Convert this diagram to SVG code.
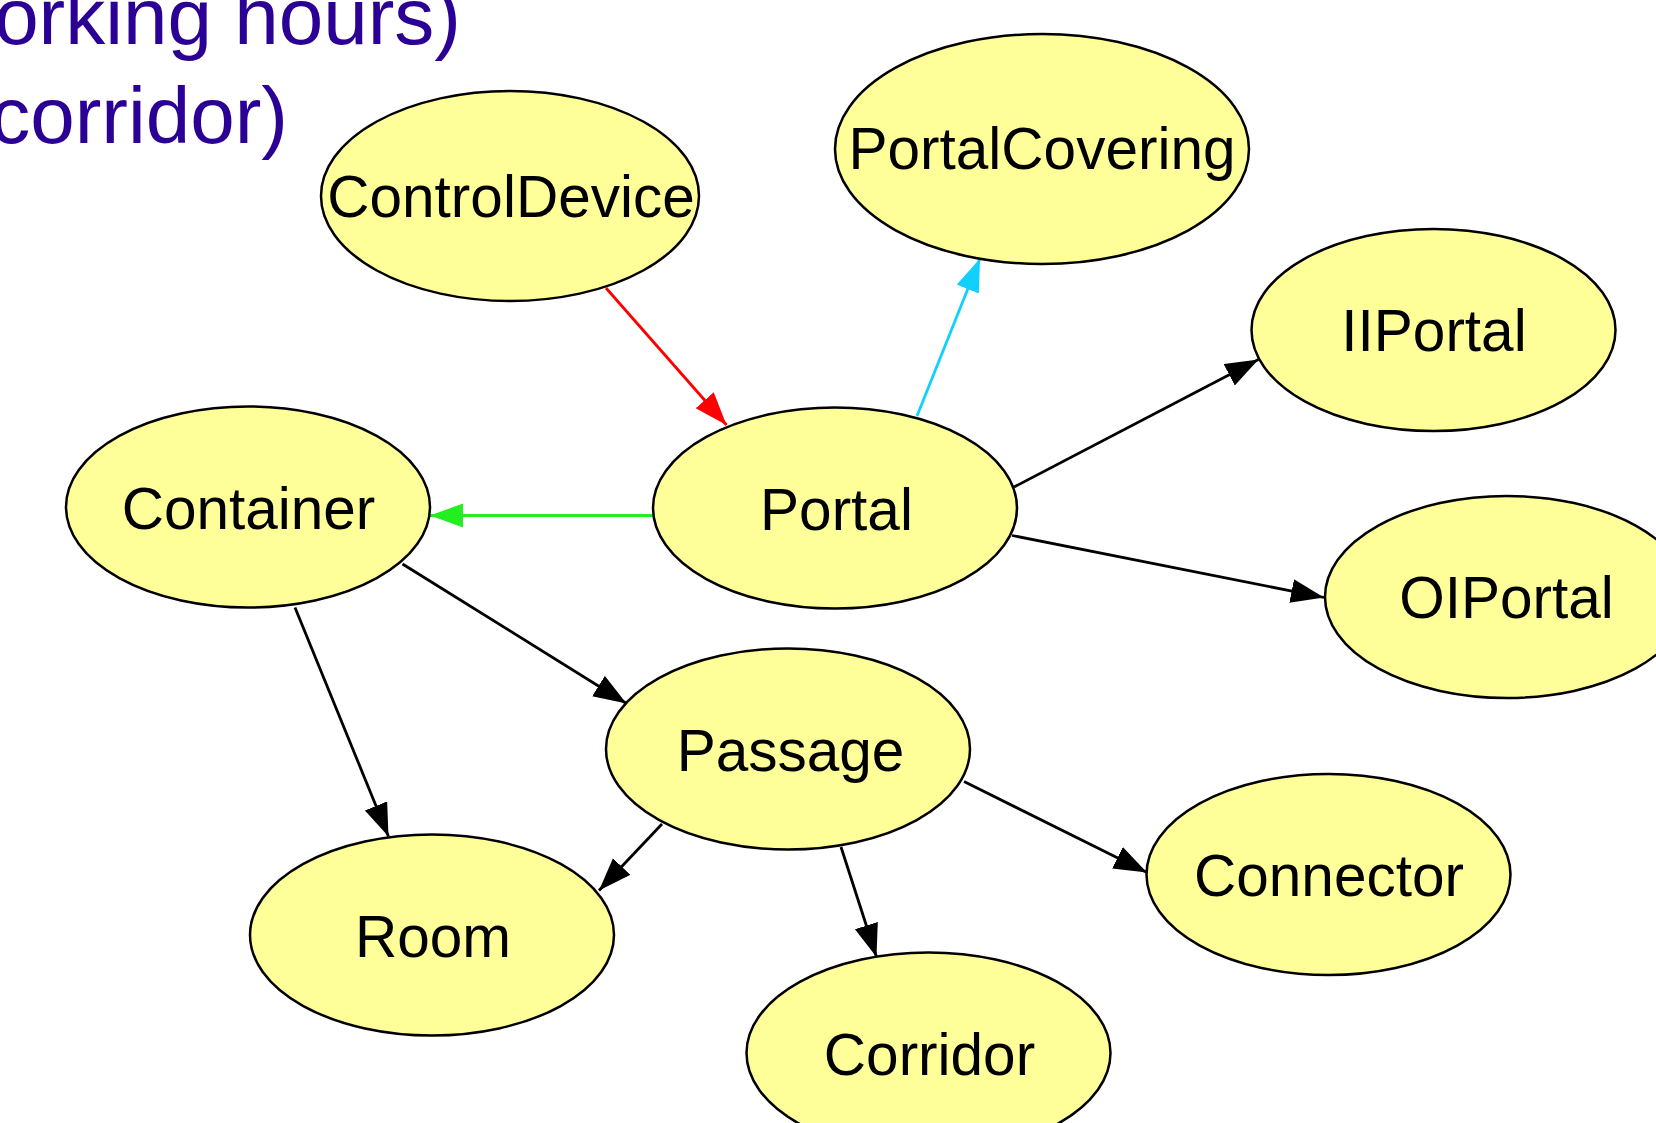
<svg xmlns="http://www.w3.org/2000/svg" width="1656" height="1123" viewBox="0 0 1656 1123">
<defs>
<style>
.node ellipse{fill:#ffff99;stroke:#000;stroke-width:2.5}
.node text{font-family:"Liberation Sans",Arial,sans-serif;font-size:58.5px;fill:#000;text-anchor:middle}
.edge{stroke-width:2.8;fill:none}
.title{font-family:"Liberation Sans",Arial,sans-serif;font-size:80px;fill:#2b0094;text-anchor:end}
</style>
<marker id="ab" markerUnits="userSpaceOnUse" markerWidth="36" markerHeight="26" refX="33" refY="12" orient="auto"><path d="M0,0 L33,12 L0,24 z" fill="#000"/></marker>
<marker id="ar" markerUnits="userSpaceOnUse" markerWidth="36" markerHeight="26" refX="33" refY="12" orient="auto"><path d="M0,0 L33,12 L0,24 z" fill="#ff0000"/></marker>
<marker id="ac" markerUnits="userSpaceOnUse" markerWidth="36" markerHeight="26" refX="33" refY="12" orient="auto"><path d="M0,0 L33,12 L0,24 z" fill="#10d0ff"/></marker>
<marker id="ag" markerUnits="userSpaceOnUse" markerWidth="36" markerHeight="26" refX="33" refY="12" orient="auto"><path d="M0,0 L33,12 L0,24 z" fill="#22ee22"/></marker>
</defs>
<rect width="1656" height="1123" fill="#fff"/>
<text class="title" x="461" y="44">orking hours)</text>
<text class="title" x="288" y="143">corridor)</text>
<g id="connectors">
<line class="edge" stroke="#ff0000" x1="606" y1="288" x2="726.5" y2="425" marker-end="url(#ar)"/>
<line class="edge" stroke="#10d0ff" x1="917" y1="416" x2="980" y2="258.5" marker-end="url(#ac)"/>
<line class="edge" stroke="#000" x1="1014" y1="487" x2="1258.5" y2="359.5" marker-end="url(#ab)"/>
<line class="edge" stroke="#000" x1="1012" y1="535.5" x2="1324" y2="597.5" marker-end="url(#ab)"/>
<line class="edge" stroke="#22ee22" x1="653" y1="515.5" x2="430" y2="515.5" marker-end="url(#ag)"/>
<line class="edge" stroke="#000" x1="402.5" y1="564" x2="626.5" y2="703.5" marker-end="url(#ab)"/>
<line class="edge" stroke="#000" x1="295" y1="607.5" x2="388.5" y2="836.5" marker-end="url(#ab)"/>
<line class="edge" stroke="#000" x1="662" y1="824" x2="599" y2="890.5" marker-end="url(#ab)"/>
<line class="edge" stroke="#000" x1="841" y1="847" x2="876.5" y2="957" marker-end="url(#ab)"/>
<line class="edge" stroke="#000" x1="964" y1="781.5" x2="1147" y2="872.5" marker-end="url(#ab)"/>
</g>
<g id="ControlDevice" class="node"><ellipse cx="510" cy="196" rx="189" ry="105"/><text x="511" y="216.5">ControlDevice</text></g>
<g id="PortalCovering" class="node"><ellipse cx="1042" cy="149" rx="207" ry="115"/><text x="1042" y="168.5">PortalCovering</text></g>
<g id="IIPortal" class="node"><ellipse cx="1433.5" cy="330" rx="182" ry="101"/><text x="1434" y="350.5">IIPortal</text></g>
<g id="OIPortal" class="node"><ellipse cx="1507" cy="597" rx="182" ry="101"/><text x="1506.5" y="617.5">OIPortal</text></g>
<g id="Container" class="node"><ellipse cx="248" cy="507" rx="182" ry="100.5"/><text x="248.5" y="528.5">Container</text></g>
<g id="Portal" class="node"><ellipse cx="835" cy="508" rx="182" ry="100.5"/><text x="836.5" y="529.5">Portal</text></g>
<g id="Passage" class="node"><ellipse cx="788" cy="749" rx="182" ry="100.5"/><text x="790.5" y="770.5">Passage</text></g>
<g id="Room" class="node"><ellipse cx="432" cy="935" rx="182" ry="100.5"/><text x="433" y="956.5">Room</text></g>
<g id="Corridor" class="node"><ellipse cx="928.5" cy="1053" rx="182" ry="100.5"/><text x="929.5" y="1074.5">Corridor</text></g>
<g id="Connector" class="node"><ellipse cx="1328.5" cy="874.5" rx="182" ry="100.5"/><text x="1329" y="895.5">Connector</text></g>
</svg>
